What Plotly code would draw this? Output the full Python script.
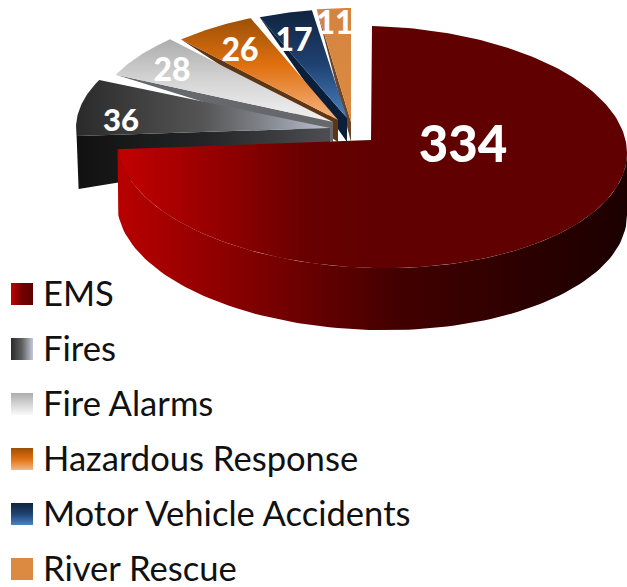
import numpy as np
import plotly.graph_objects as go

# ---- data ----
categories = ["EMS", "Fires", "Fire Alarms", "Hazardous Response", "Motor Vehicle Accidents", "River Rescue"]
values = [334, 36, 28, 26, 17, 11]

# ---- drawing geometry (pixel space of the axes) ----
W, H = 627, 587
EMS_CX, EMS_CY, EMS_RX, EMS_RY, EMS_DEPTH, EMS_SHEAR = 372, 147, 255, 121, 62, 0.024
EMS_APEX = (371, 140)
apex_x = [None, 330, 333, 338, 347, 351]
apex_y = [None, 128, 122, 120, 118, 122]
rim_rx = [None, 254, 239, 230, 230, 225]
rim_ry = [None, 115, 113, 110, 109, 114]
WALL_BOTTOM = 142
FIRES_WALL = 53

top_fill = [
    dict(type="horizontal", start=117, stop=371, colorscale=[[0, "#c40000"], [0.35, "#9a0000"], [0.75, "#680000"], [1, "#600000"]]),
    dict(type="horizontal", start=76, stop=330, colorscale=[[0, "#2a2a2a"], [0.5, "#555555"], [0.72, "#7d8087"], [1, "#bcc2d0"]]),
    dict(type="vertical", start=40, stop=125, colorscale=[[0, "#adadad"], [0.5, "#d6d6d6"], [1, "#f4f4f4"]]),
    dict(type="vertical", start=18, stop=122, colorscale=[[0, "#9c5006"], [0.45, "#e0700f"], [1, "#f5b684"]]),
    dict(type="vertical", start=10, stop=120, colorscale=[[0, "#10233f"], [0.5, "#1f4272"], [1, "#4c82c4"]]),
    dict(type="vertical", start=8, stop=122, colorscale=[[0, "#d58440"], [1, "#dc8a42"]]),
]
wall_color = [None, None, "#66686b", "#5f3613", "#0c1f3a", "#6c4526"]
ems_wall_fill = dict(type="horizontal", start=118, stop=627,
                     colorscale=[[0, "#b80000"], [0.22, "#8a0000"], [0.55, "#420000"], [0.8, "#2c0000"], [1, "#1c0000"]])
fires_wall_fill = dict(type="horizontal", start=76, stop=330,
                       colorscale=[[0, "#111111"], [0.5, "#232425"], [1, "#4c4e52"]])

label_x = [463, 121, 172, 240, 294, 335]
label_y = [149, 123, 73, 53, 43, 26]
label_size = [51, 31, 32, 32, 32, 32]

legend_y = [294, 349, 404, 459, 514, 569]
legend_text_y = [297, 352, 407, 462, 517, 572]
legend_fill = [
    dict(type="horizontal", colorscale=[[0, "#c40000"], [0.5, "#700000"], [1, "#600000"]]),
    dict(type="horizontal", colorscale=[[0, "#2a2a2a"], [0.5, "#606060"], [1, "#c4cada"]]),
    dict(type="vertical", colorscale=[[0, "#adadad"], [1, "#fafafa"]]),
    dict(type="vertical", colorscale=[[0, "#9c5006"], [0.5, "#e0700f"], [1, "#f5b684"]]),
    dict(type="vertical", colorscale=[[0, "#10233f"], [0.5, "#1f4272"], [1, "#4c82c4"]]),
    dict(type="vertical", colorscale=[[0, "#dc8a42"], [1, "#dc8a42"]]),
]

# ---- angles follow from the values ----
total = sum(values)
edges = np.concatenate([[0], np.cumsum(values)]) / total * 2 * np.pi


def poly(fig, xs, ys, name, gradient=None, color=None):
    kw = dict(fillgradient=gradient) if gradient else dict(fillcolor=color)
    fig.add_trace(go.Scatter(x=list(xs), y=list(ys), mode="lines", fill="toself",
                             line=dict(width=0, color="rgba(0,0,0,0)"),
                             name=name, showlegend=False, hoverinfo="skip", **kw))


def ems_xy(t):
    x = EMS_CX + EMS_RX * np.sin(t)
    y = EMS_CY - EMS_RY * np.cos(t) + EMS_SHEAR * (x - EMS_CX)
    return x, y


fig = go.Figure()

# side faces of the small pulled slices, far to near
for i in range(5, 1, -1):
    t0 = edges[i]
    ox = apex_x[i] + rim_rx[i] * np.sin(t0)
    oy = apex_y[i] - rim_ry[i] * np.cos(t0)
    poly(fig, [ox, apex_x[i], apex_x[i], ox], [oy, apex_y[i], WALL_BOTTOM, oy], categories[i], color=wall_color[i])

# top faces of the small slices
for i in range(5, 1, -1):
    t = np.linspace(edges[i], edges[i + 1], 40)
    xs = np.concatenate([[apex_x[i]], apex_x[i] + rim_rx[i] * np.sin(t), [apex_x[i]]])
    ys = np.concatenate([[apex_y[i]], apex_y[i] - rim_ry[i] * np.cos(t), [apex_y[i]]])
    poly(fig, xs, ys, categories[i], gradient=top_fill[i])

# Fires: side face then top
t0 = edges[1]
ox = apex_x[1] + rim_rx[1] * np.sin(t0)
oy = apex_y[1] - rim_ry[1] * np.cos(t0)
poly(fig, [ox, apex_x[1], apex_x[1], ox + 2, ox], [oy, apex_y[1], WALL_BOTTOM + 6, oy + FIRES_WALL, oy], categories[1], gradient=fires_wall_fill)
t = np.linspace(edges[1], edges[2], 40)
poly(fig, np.concatenate([[apex_x[1]], apex_x[1] + rim_rx[1] * np.sin(t), [apex_x[1]]]),
     np.concatenate([[apex_y[1]], apex_y[1] - rim_ry[1] * np.cos(t), [apex_y[1]]]), categories[1], gradient=top_fill[1])

# EMS: outer wall then top
t = np.linspace(np.pi / 2, edges[1], 100)
x, y = ems_xy(t)
poly(fig, np.concatenate([x, x[::-1] + 0]), np.concatenate([y, (y + EMS_DEPTH)[::-1]]), categories[0], gradient=ems_wall_fill)
t = np.linspace(edges[0], edges[1], 200)
x, y = ems_xy(t)
poly(fig, np.concatenate([[EMS_APEX[0]], x, [EMS_APEX[0]]]), np.concatenate([[EMS_APEX[1]], y, [EMS_APEX[1]]]),
     categories[0], gradient=top_fill[0])

# value labels
fig.add_trace(go.Scatter(x=label_x, y=label_y, mode="text", text=[str(v) for v in values],
                         textposition="middle center", showlegend=False, hoverinfo="skip",
                         textfont=dict(family="Lato", size=label_size, color="white", weight=900)))

# legend
for cat, ly, grad in zip(categories, legend_y, legend_fill):
    poly(fig, [11, 33, 33, 11, 11], [ly - 11, ly - 11, ly + 11, ly + 11, ly - 11], cat,
         gradient=dict(grad, start=11 if grad["type"] == "horizontal" else ly - 11,
                       stop=33 if grad["type"] == "horizontal" else ly + 11))
fig.add_trace(go.Scatter(x=[43] * len(categories), y=legend_text_y, mode="text", text=categories,
                         textposition="middle right", showlegend=False, hoverinfo="skip",
                         textfont=dict(family="Lato", size=34.6, color="#111111")))

fig.update_layout(width=W, height=H, margin=dict(l=0, r=0, t=0, b=0),
                  paper_bgcolor="white", plot_bgcolor="white", showlegend=False,
                  xaxis=dict(range=[0, W], visible=False, fixedrange=True),
                  yaxis=dict(range=[H, 0], visible=False, fixedrange=True))
fig.write_html("out.html", config=dict(displayModeBar=False),
               post_script="document.body.style.margin='0';document.documentElement.style.overflow='hidden';")
